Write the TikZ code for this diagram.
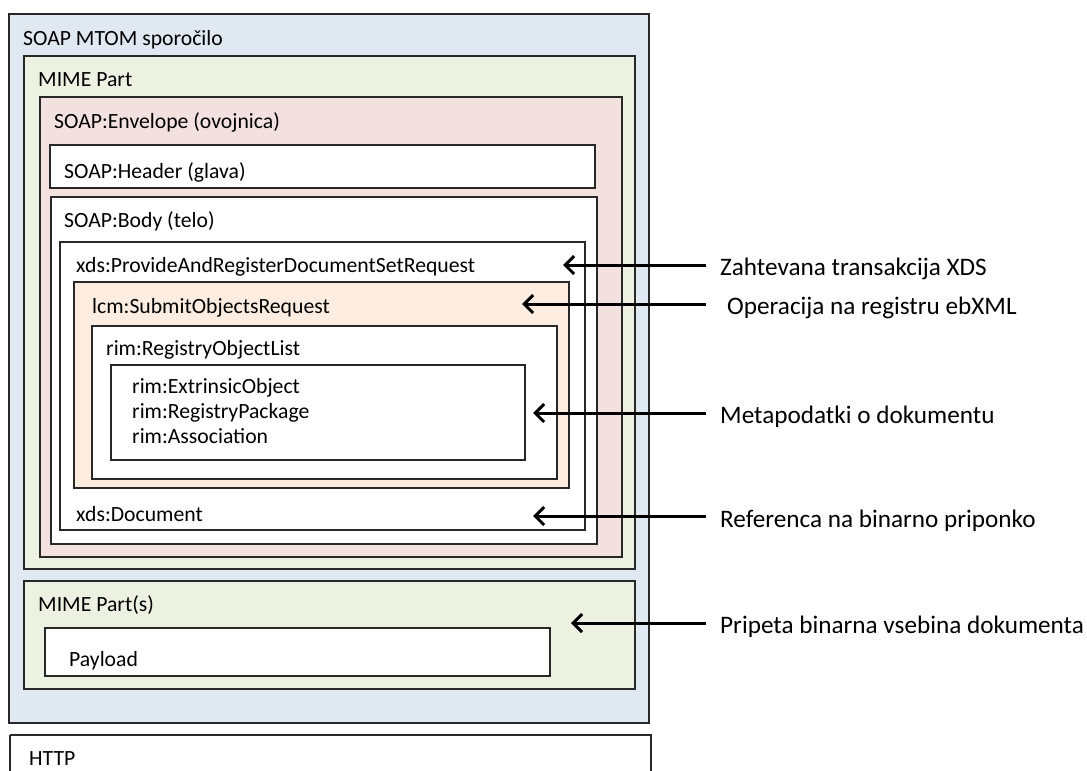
\documentclass[tikz,border=0pt]{standalone}
\usepackage{fontspec}
\setmainfont{Carlito}
\usetikzlibrary{arrows.meta}
\definecolor{cblue}{RGB}{224,232,242}
\definecolor{cgreen}{RGB}{236,241,226}
\definecolor{cpink}{RGB}{243,225,224}
\definecolor{corange}{RGB}{252,237,224}
\definecolor{cline}{RGB}{40,40,40}
\tikzset{
  box/.style={draw=cline, line width=1.7pt, fill=#1},
  box/.default=white,
  lbl/.style={anchor=base west, inner sep=0pt, font=\fontsize{21.7}{25}\selectfont},
  note/.style={anchor=base west, inner sep=0pt, font=\fontsize{25.2}{29}\selectfont},
  arr/.style={line width=3pt, -{Straight Barb[length=9pt,width=18pt,line width=3pt]}}
}
\begin{document}
\begin{tikzpicture}[x=1pt,y=-1pt]
\useasboundingbox (0,0) rectangle (1087,771);
% boxes
\draw[box=cblue]   (9,14)   rectangle (649,723);
\draw[box=cgreen]  (24,56)  rectangle (635,569);
\draw[box=cpink]   (40,97)  rectangle (622,557);
\draw[box]         (50,145) rectangle (595,188);
\draw[box]         (51,197) rectangle (597,544);
\draw[box]         (60,242) rectangle (585,530);
\draw[box=corange] (74,282) rectangle (569,488);
\draw[box]         (92,326) rectangle (557,479);
\draw[box]         (111,365) rectangle (525,460);
\draw[box=cgreen]  (24,581) rectangle (635,689);
\draw[box]         (45,628) rectangle (550,676);
\draw[box]         (10,735) -- (10,790) (651,790) -- (651,735) -- (10,735);
% box labels
\node[lbl] (tmtom) at (23,45) {SOAP MTOM sporočilo};
\node[lbl] (tmime) at (38,86) {MIME Part};
\node[lbl] (tenv) at (54,128) {SOAP:Envelope (ovojnica)};
\node[lbl] (thead) at (64,178) {SOAP:Header (glava)};
\node[lbl] (tbody) at (64,227) {SOAP:Body (telo)};
\node[lbl] (tpar) at (76,272) {xds:ProvideAndRegisterDocumentSetRequest};
\node[lbl] (tlcm) at (92,313) {lcm:SubmitObjectsRequest};
\node[lbl] (trol) at (106,355) {rim:RegistryObjectList};
\node[lbl] (tex) at (132,393) {rim:ExtrinsicObject};
\node[lbl] (trp) at (132,418) {rim:RegistryPackage};
\node[lbl] (tas) at (132,443) {rim:Association};
\node[lbl] (tdoc) at (76,521) {xds:Document};
\node[lbl] (tmimes) at (38,611) {MIME Part(s)};
\node[lbl] (tpay) at (69,666) {Payload};
\node[lbl] (thttp) at (29,765) {HTTP};
% notes
\node[note] (n1) at (720,275) {Zahtevana transakcija XDS};
\node[note] (n2) at (727,314) {Operacija na registru ebXML};
\node[note] (n3) at (720,423) {Metapodatki o dokumentu};
\node[note] (n4) at (720,527) {Referenca na binarno priponko};
\node[note] (n5) at (720,633) {Pripeta binarna vsebina dokumenta};
% arrow ends
\coordinate (h1) at (563,265);
\coordinate (h2) at (522,304);
\coordinate (h3) at (533,413);
\coordinate (h4) at (533,516);
\coordinate (h5) at (571,623);
\coordinate (s1) at (706,265);
\coordinate (s2) at (706,304);
\coordinate (s3) at (706,413);
\coordinate (s4) at (706,516);
\coordinate (s5) at (706,623);
\draw[arr] (s1) -- (h1);
\draw[arr] (s2) -- (h2);
\draw[arr] (s3) -- (h3);
\draw[arr] (s4) -- (h4);
\draw[arr] (s5) -- (h5);
\end{tikzpicture}
\end{document}
